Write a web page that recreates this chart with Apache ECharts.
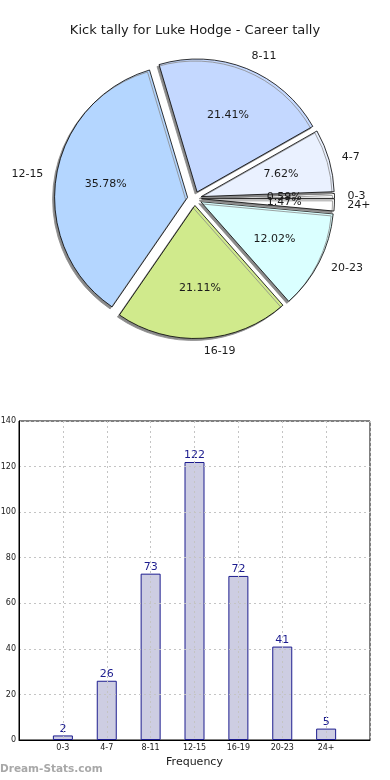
<!DOCTYPE html>
<html>
<head>
<meta charset="utf-8">
<script src="https://cdn.jsdelivr.net/npm/echarts@6/dist/echarts.min.js"></script>
<style>
html,body{margin:0;padding:0;background:#fff;}
#chart{width:390px;height:780px;}
</style>
</head>
<body>
<div id="chart"></div>
<script>
const categories = ['0-3', '4-7', '8-11', '12-15', '16-19', '20-23', '24+'];
const kickCounts = [2, 26, 73, 122, 72, 41, 5];
const sliceColors = ['#ffffff', '#eaf1ff', '#c4d8ff', '#b4d6ff', '#d0ea8c', '#daffff', '#ffffff'];
const yTicks = [0, 20, 40, 60, 80, 100, 120, 140];

const total = kickCounts.reduce((a, b) => a + b, 0);
const FONT = 'DejaVu Sans';
const PIE_R = 133;
const EXPLODE = 7;
const PIE_CENTER = [194.5, 198.5];

const pieData = categories.map((c, i) => ({
  name: c,
  value: kickCounts[i],
  selected: true,
  itemStyle: { color: sliceColors[i] }
}));
const pctData = categories.map((c, i) => ({
  name: c,
  value: kickCounts[i],
  selected: true
}));

const chart = echarts.init(document.getElementById('chart'), null, { renderer: 'canvas' });
chart.setOption({
  animation: false,
  backgroundColor: '#ffffff',
  title: [
    {
      text: 'Kick tally for Luke Hodge - Career tally',
      left: 'center',
      top: 19,
      textStyle: { fontFamily: FONT, fontSize: 13, fontWeight: 'normal', color: '#1a1a1a' }
    },
    {
      text: 'Dream-Stats.com',
      left: 0,
      top: 764,
      padding: 0,
      textStyle: { fontFamily: FONT, fontSize: 10.5, fontWeight: 'bold', color: '#a8a8a8' }
    }
  ],
  grid: {
    left: 19, right: 20, top: 421, bottom: 40,
    outerBoundsMode: 'none',
    containLabel: false,
    show: true, borderColor: '#000', borderWidth: 1, backgroundColor: 'transparent'
  },
  xAxis: {
    type: 'value',
    min: -1, max: 7, interval: 1,
    z: 5,
    name: 'Frequency',
    nameLocation: 'middle',
    nameGap: 17,
    nameTextStyle: { fontFamily: FONT, fontSize: 11, color: '#1a1a1a' },
    axisLine: { show: true, onZero: false, lineStyle: { color: '#000' } },
    axisTick: { show: false },
    axisLabel: {
      fontFamily: FONT, fontSize: 8, color: '#1a1a1a', margin: 4,
      formatter: v => (categories[v] !== undefined ? categories[v] : '')
    },
    splitLine: { show: true, lineStyle: { color: '#c4c4c4', type: [2, 3], width: 1 } }
  },
  yAxis: {
    type: 'value',
    min: 0, max: 140, interval: 20,
    z: 5,
    axisLine: { show: true, onZero: false, lineStyle: { color: '#000' } },
    axisTick: { show: false },
    axisLabel: {
      fontFamily: FONT, fontSize: 8, color: '#1a1a1a', margin: 3,
      formatter: v => (yTicks.indexOf(v) >= 0 ? String(v) : '')
    },
    splitLine: { show: true, lineStyle: { color: '#c4c4c4', type: [2, 3], width: 1 } }
  },
  series: [
    {
      type: 'pie',
      center: PIE_CENTER,
      radius: [0, PIE_R],
      startAngle: 0,
      clockwise: false,
      selectedMode: 'multiple',
      selectedOffset: EXPLODE,
      avoidLabelOverlap: false,
      minShowLabelAngle: 0,
      labelLayout: { hideOverlap: false, moveOverlap: null },
      emphasis: { disabled: true, scale: false },
      data: pieData,
      itemStyle: {
        borderColor: '#000', borderWidth: 0.8,
        shadowColor: '#8a8a8a', shadowBlur: 0, shadowOffsetX: -2, shadowOffsetY: 2
      },
      label: {
        show: true,
        position: 'outside',
        fontFamily: FONT, fontSize: 11, color: '#1a1a1a',
        distanceToLabelLine: 0,
        formatter: '{b}'
      },
      labelLine: { show: false, length: Math.round(PIE_R * 0.1), length2: 0 }
    },
    {
      type: 'pie',
      center: PIE_CENTER,
      radius: [0, PIE_R * 1.2],
      startAngle: 0,
      clockwise: false,
      selectedMode: 'multiple',
      selectedOffset: EXPLODE,
      avoidLabelOverlap: false,
      minShowLabelAngle: 0,
      labelLayout: { hideOverlap: false, moveOverlap: null },
      silent: true,
      emphasis: { disabled: true, scale: false },
      data: pctData,
      itemStyle: { color: 'rgba(0,0,0,0)', borderWidth: 0 },
      label: {
        show: true,
        position: 'inside',
        fontFamily: FONT, fontSize: 11, color: '#1a1a1a',
        formatter: p => (p.value / total * 100).toFixed(2) + '%'
      },
      labelLine: { show: false }
    },
    {
      type: 'bar',
      data: categories.map((c, i) => [i, kickCounts[i]]),
      barWidth: 20,
      itemStyle: { color: '#cdcde2', borderColor: '#1c1c8e', borderWidth: 1 },
      label: {
        show: true, position: 'top', distance: 1,
        fontFamily: FONT, fontSize: 11, color: '#1c1c8e'
      }
    }
  ]
});
</script>
</body>
</html>
